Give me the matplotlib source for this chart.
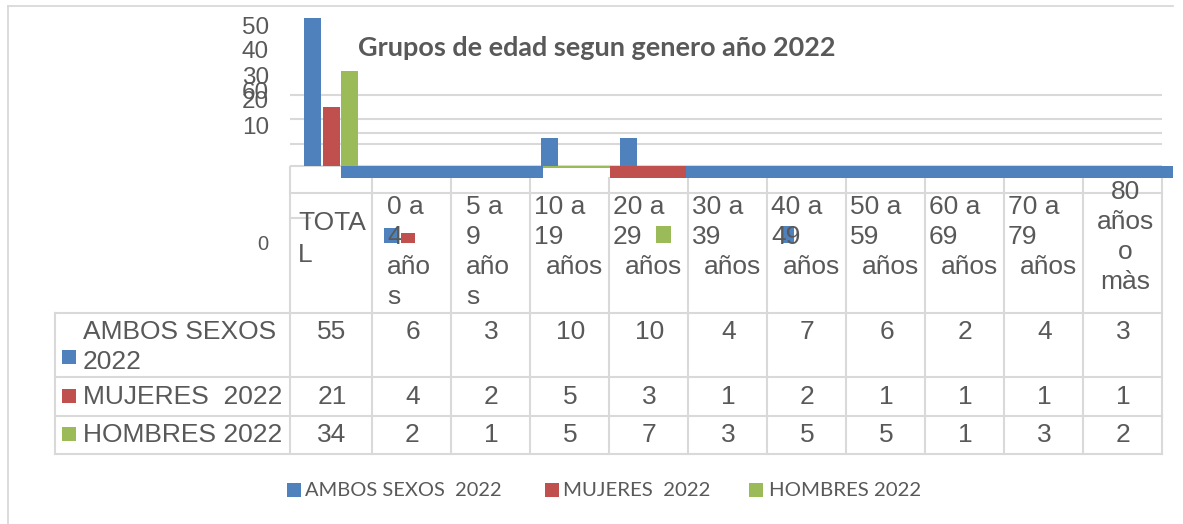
import numpy as np
import matplotlib
matplotlib.use("Agg")
import matplotlib.pyplot as plt
from matplotlib.patches import Rectangle

# ---------------- data ----------------
categories = ["TOTAL", "0 a 4 años", "5 a 9 años", "10 a 19 años", "20 a 29 años",
              "30 a 39 años", "40 a 49 años", "50 a 59 años", "60 a 69 años",
              "70 a 79 años", "80 años o màs"]
header_lines = [["TOTA", "L"], ["0 a", "4", "año", "s"], ["5 a", "9", "año", "s"],
                ["10 a", "19", "años"], ["20 a", "29", "años"], ["30 a", "39", "años"],
                ["40 a", "49", "años"], ["50 a", "59", "años"], ["60 a", "69", "años"],
                ["70 a", "79", "años"], ["80", "años", "o", "màs"]]
ambos = [55, 6, 3, 10, 10, 4, 7, 6, 2, 4, 3]
mujeres = [21, 4, 2, 5, 3, 1, 2, 1, 1, 1, 1]
hombres = [34, 2, 1, 5, 7, 3, 5, 5, 1, 3, 2]
series_names = ["AMBOS SEXOS  2022", "MUJERES  2022", "HOMBRES 2022"]
table_row_labels = [["AMBOS SEXOS", "2022"], ["MUJERES  2022"], ["HOMBRES 2022"]]
ytick_labels = ["50", "40", "30", "60", "20", "10"]
zero_label = "0"
title = "Grupos de edad segun genero año 2022"

# ---------------- style ----------------
W, H = 1183, 524
colors = ["#4F81BD", "#C0504D", "#9BBB59"]
txt = "#595959"
grid = "#D9D9D9"
tfont = "Liberation Sans"
cfont = "Lato"

fig = plt.figure(figsize=(W / 100, H / 100), dpi=100)
fig.patch.set_facecolor("white")

# overlay axes in pixel units (y down)
ov = fig.add_axes([0, 0, 1, 1], zorder=0)
ov.set_xlim(0, W)
ov.set_ylim(H, 0)
ov.axis("off")
ov.patch.set_alpha(0)

# ---------------- bar area ----------------
ppu = 79.0                 # pixels per category
cx0 = 331.0                # pixel centre of first category
base_px, top_px, bot_px = 166.0, 18.0, 178.0
vpx = 2.8                  # pixels per value unit
left_px, right_px = 290.0, 1172.7

ax = fig.add_axes([left_px / W, (H - bot_px) / H, (right_px - left_px) / W, (bot_px - top_px) / H], zorder=1)
ax.patch.set_alpha(0)
ax.set_xlim((left_px - cx0) / ppu, (right_px - cx0) / ppu)
ax.set_ylim(-(bot_px - base_px) / vpx, (base_px - top_px) / vpx)
for s in ax.spines.values():
    s.set_visible(False)
ax.set_xticks([])
ax.set_yticks([])

x = np.arange(len(categories))
grid_right = (1162 - cx0) / ppu
xl = ax.get_xlim()[0]
for gpx, gx0 in [(95, xl), (119.3, xl), (133.3, (358 - cx0) / ppu), (144.3, xl)]:
    ax.hlines((base_px - gpx) / vpx, gx0, grid_right, color=grid, lw=1.5, zorder=1)
ax.hlines(0, xl, grid_right, color=grid, lw=1.5, zorder=1)

bw = 17 / ppu
offs = [-18.5 / ppu, 0, 18.5 / ppu]
for vals, off, col in zip([ambos, mujeres, hombres], offs, colors):
    v = np.array(vals, dtype=float)
    h = np.where(v >= 10, v, 0)
    ax.bar(x + off, h, width=bw, color=col, linewidth=0, zorder=3)

# rendering strips below the baseline
ymin = ax.get_ylim()[0]
strips = [((341 - cx0) / ppu, (543 - cx0) / ppu, colors[0], ymin),
          ((543 - cx0) / ppu, (610 - cx0) / ppu, colors[2], -2 / vpx),
          ((610 - cx0) / ppu, (686 - cx0) / ppu, colors[1], ymin),
          ((686 - cx0) / ppu, (right_px - cx0) / ppu, colors[0], ymin)]
for a, b, col, hh in strips:
    ax.broken_barh([(a, b - a)], (hh, -hh), facecolor=col, linewidth=0, zorder=4)

# ---------------- chart border ----------------
ov.plot([8, 1173], [6, 6], color=grid, lw=1.3)
ov.plot([8, 8], [6, H], color=grid, lw=1.3)

# ---------------- title ----------------
r = fig.canvas.get_renderer()


def fit(t, target):
    w = t.get_window_extent(r).width
    t.set_fontsize(t.get_fontsize() * target / w)


tt = ov.text(358, 48, title, fontsize=16, fontweight="bold", color=txt, family=cfont,
             ha="left", va="center")
fit(tt, 480)

# ---------------- y tick labels ----------------
for lab, ypx in zip(ytick_labels, [28, 52, 78, 93, 102, 128]):
    ov.text(269, ypx, lab, fontsize=17.5, color=txt, family=tfont, ha="right", va="center")
ov.text(268, 245, zero_label, fontsize=14.5, color=txt, family=tfont, ha="right", va="center")

# ---------------- table grid ----------------
edges = [290] + [372 + 79 * k for k in range(11)]
lw_t = 1.5
ov.plot([edges[0], edges[0]], [167, 454], color=grid, lw=lw_t)
for e in edges[1:]:
    ov.plot([e, e], [178, 454], color=grid, lw=lw_t)
ov.plot([55, 55], [313, 454], color=grid, lw=lw_t)
ov.plot([290, 1162], [193, 193], color=grid, lw=lw_t)
ov.plot([290, 310], [218, 218], color=grid, lw=lw_t)
for yy in [313, 377, 416, 454]:
    ov.plot([55, 1162], [yy, yy], color=grid, lw=lw_t)

# header texts
fs = 19
for i, lines in enumerate(header_lines):
    left = edges[i]
    if i == 0:
        for j, ln in enumerate(lines):
            ov.text(left + 8, 223 + 32 * j, ln, fontsize=fs, color=txt, family=tfont, ha="left",
                    va="center", zorder=6)
    elif i == len(header_lines) - 1:
        cxp = (edges[i] + edges[i + 1]) / 2 + 3
        for j, ln in enumerate(lines):
            ov.text(cxp, 192 + 30 * j, ln, fontsize=fs, color=txt, family=tfont, ha="center",
                    va="center", zorder=6)
    else:
        pad = 15 if i <= 2 else 4
        for j, ln in enumerate(lines):
            ind = 12 if (ln == "años") else 0
            ov.text(left + pad + ind, 207 + 30 * j, ln, fontsize=fs, color=txt, family=tfont,
                    ha="left", va="center", zorder=6)

# stray legend keys in header
for (x0, y0, w, h), col, z in [((384, 228, 14, 15), colors[0], 5), ((401, 233, 14, 10), colors[1], 7),
                                ((656, 226, 15, 17), colors[2], 5), ((782, 226, 12, 17), colors[0], 5)]:
    ov.add_patch(Rectangle((x0, y0), w, h, facecolor=col, edgecolor="none", zorder=z))

# data rows
row_vals = [ambos, mujeres, hombres]
row_first_y = [332, 397, 435]
sq_y = [350, 389, 427]
for k, (vals, lines) in enumerate(zip(row_vals, table_row_labels)):
    for j, ln in enumerate(lines):
        ov.text(83, row_first_y[k] + 30 * j, ln, fontsize=fs, color=txt, family=tfont, ha="left", va="center")
    ov.add_patch(Rectangle((62, sq_y[k]), 14, 14, facecolor=colors[k], edgecolor="none"))
    for i, v in enumerate(vals):
        cxp = (edges[i] + edges[i + 1]) / 2
        ov.text(cxp + 1, row_first_y[k], str(v), fontsize=fs, color=txt, family=tfont, ha="center", va="center")

# ---------------- legend ----------------
for name, col, sx, tx, tw in zip(series_names, colors, [287, 545, 749], [305, 563, 769], [197, 148, 152]):
    ov.add_patch(Rectangle((sx, 483), 14, 14, facecolor=col, edgecolor="none"))
    t = ov.text(tx, 490, name, fontsize=15, color=txt, family=cfont, ha="left", va="center")
    fit(t, tw)

fig.savefig("out.png", dpi=100, facecolor="white")
